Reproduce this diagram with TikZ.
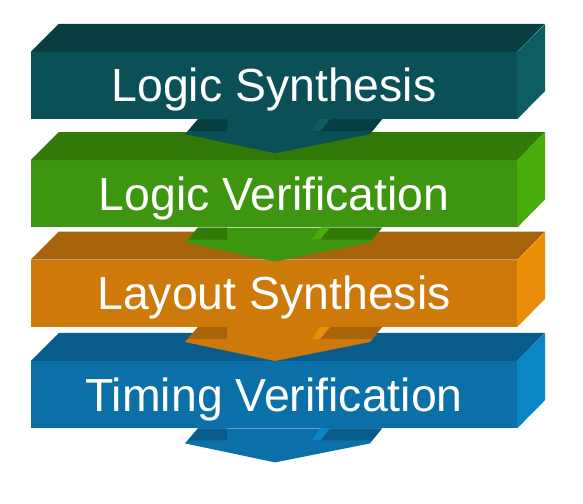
\documentclass[tikz,border=0pt]{standalone}
\usepackage{fontspec}
\setmainfont{Liberation Sans}
\usetikzlibrary{positioning}
\definecolor{tealF}{RGB}{11,80,86}
\definecolor{tealT}{RGB}{7,62,66}
\definecolor{tealS}{RGB}{12,94,98}
\definecolor{greenF}{RGB}{62,150,16}
\definecolor{greenT}{RGB}{50,120,8}
\definecolor{greenS}{RGB}{72,172,10}
\definecolor{orangeF}{RGB}{205,122,10}
\definecolor{orangeT}{RGB}{168,100,10}
\definecolor{orangeS}{RGB}{234,142,10}
\definecolor{blueF}{RGB}{12,112,168}
\definecolor{blueT}{RGB}{8,92,140}
\definecolor{blueS}{RGB}{10,134,196}

\begin{document}
\begin{tikzpicture}[x=1pt,y=1pt,
    stage/.style={fill=#1F, text=white, minimum width=486pt, minimum height=67pt,
      inner sep=0pt, text height=33pt, text depth=0pt,
      font=\fontsize{46.4}{50}\selectfont}]
    \useasboundingbox (0,0) rectangle (583,503);

    \node [stage=teal] (logsyn) at (274,417.5) {Logic Synthesis};
    \node [stage=green, below=41pt of logsyn] (logver) {Logic Verification};
    \node [stage=orange, below=32pt of logver] (laysyn) {Layout Synthesis};
    \node [stage=blue, below=34pt of laysyn] (timver) {Timing Verification};

    % top and side of each block
    \foreach \n/\col in {logsyn/teal, logver/green, laysyn/orange, timver/blue} {
      \fill [\col T] (\n.north west) -- ++(28,28) -- ++(486,0) -- (\n.north east) -- cycle;
      \fill [\col S] (\n.north east) -- ++(28,28) -- ++(0,-67) -- (\n.south east) -- cycle;
    }

    % arrow heads under the blocks
    \foreach \n/\col in {logsyn/teal, logver/green, laysyn/orange, timver/blue} {
      \begin{scope}[shift={(\n.south)}]
        \fill [\col F] (-76,0) -- (-89,-15) -- (1,-34) -- (96,-15) -- (108,0) -- cycle;
        \fill [\col T] (-76,0) -- (-47,0) -- (-47,-12) -- (-86,-12) -- cycle;
        \fill [\col T] (48,0) -- (108,0) -- (98,-12) -- (40,-12) -- cycle;
        \fill [\col S] (46,0) -- (56,0) -- (46,-12) -- (38,-12) -- cycle;
      \end{scope}
    }
\end{tikzpicture}
\end{document}
